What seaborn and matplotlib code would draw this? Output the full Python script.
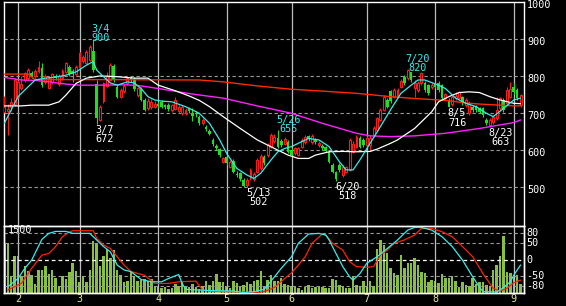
import numpy as np
import pandas as pd
import matplotlib
matplotlib.use("Agg")
import matplotlib.pyplot as plt
import seaborn as sns
from matplotlib.transforms import blended_transform_factory, offset_copy

sns.set_style("dark", {"axes.facecolor": "black", "figure.facecolor": "black"})
plt.rcParams["font.family"] = ["DejaVu Sans Mono", "DejaVu Sans"]

# ---------------- data (daily, trading-day index 0..151) ----------------
opens = [704, 705, 718, 725, 745, 768, 790, 795, 810, 800, 813, 822, 785, 768, 785, 800, 780, 795, 812, 825,
         815, 805, 826, 840, 835, 845, 868, 780, 682, 732, 775, 790, 828, 772, 745, 760, 781, 795, 792, 750,
         765, 736, 714, 716, 718, 726, 730, 722, 723, 708, 712, 705, 700, 700, 714, 702, 700, 689, 673, 664,
         653, 628, 612, 603, 569, 581, 556, 572, 535, 538, 520, 505, 524, 522, 542, 552, 582, 587, 610, 624,
         633, 624, 618, 623, 601, 592, 588, 610, 623, 638, 623, 627, 614, 612, 609, 596, 560, 540, 560, 533,
         542, 547, 596, 610, 633, 628, 615, 615, 640, 655, 682, 709, 736, 759, 745, 745, 772, 799, 795, 812,
         768, 763, 781, 781, 776, 770, 781, 781, 776, 740, 736, 725, 740, 740, 743, 722, 700, 718, 718, 713,
         713, 682, 668, 677, 686, 713, 736, 727, 745, 772, 763, 722]
closes = [716, 712, 730, 790, 785, 780, 808, 818, 800, 815, 826, 777, 800, 795, 805, 795, 800, 815, 835, 805,
          805, 825, 862, 852, 865, 878, 817, 687, 718, 781, 800, 831, 790, 745, 763, 775, 795, 790, 765, 768,
          736, 709, 732, 730, 726, 720, 718, 718, 711, 722, 735, 716, 718, 710, 705, 693, 698, 673, 682, 657,
          644, 617, 605, 587, 578, 565, 569, 542, 532, 522, 504, 520, 547, 536, 574, 585, 565, 614, 641, 637,
          610, 615, 630, 596, 587, 605, 605, 628, 637, 630, 639, 623, 619, 607, 599, 569, 542, 522, 547, 556,
          554, 628, 618, 637, 610, 615, 633, 633, 660, 687, 709, 745, 718, 732, 763, 763, 786, 781, 817, 790,
          782, 781, 808, 763, 754, 776, 772, 763, 740, 751, 718, 745, 748, 758, 727, 736, 727, 709, 709, 704,
          695, 673, 682, 691, 709, 740, 709, 763, 767, 758, 740, 749]
highs = [747, 725, 740, 795, 790, 800, 812, 822, 815, 820, 840, 835, 805, 800, 808, 805, 805, 820, 838, 830,
         820, 830, 865, 858, 872, 885, 900, 790, 722, 785, 812, 836, 832, 778, 768, 780, 800, 802, 798, 772,
         770, 740, 740, 738, 732, 730, 735, 726, 728, 726, 745, 722, 722, 715, 716, 714, 705, 695, 688, 668,
         658, 632, 616, 606, 582, 585, 574, 576, 545, 542, 525, 524, 552, 540, 578, 590, 588, 620, 646, 645,
         655, 630, 636, 628, 605, 610, 610, 634, 642, 642, 645, 632, 625, 616, 612, 600, 565, 545, 565, 560,
         558, 632, 625, 642, 638, 632, 638, 640, 665, 690, 714, 750, 742, 764, 768, 768, 792, 803, 820, 812,
         790, 786, 812, 786, 780, 784, 784, 786, 780, 756, 742, 750, 758, 761, 748, 740, 732, 722, 722, 718,
         718, 686, 686, 696, 745, 745, 742, 772, 785, 782, 768, 752]
lows = [700, 642, 705, 720, 740, 762, 785, 790, 795, 795, 808, 770, 780, 765, 780, 790, 775, 790, 808, 800,
        785, 800, 822, 835, 833, 840, 812, 672, 678, 728, 770, 786, 785, 740, 740, 755, 776, 785, 760, 745,
        732, 705, 710, 712, 714, 715, 714, 712, 706, 704, 708, 700, 695, 696, 700, 678, 690, 668, 668, 652,
        640, 612, 600, 582, 565, 560, 552, 538, 528, 518, 502, 502, 520, 518, 538, 548, 560, 583, 605, 620,
        606, 610, 614, 592, 583, 588, 584, 606, 618, 626, 618, 618, 610, 602, 595, 565, 538, 518, 540, 528,
        538, 543, 592, 605, 605, 610, 610, 602, 635, 650, 678, 705, 714, 728, 740, 740, 768, 776, 790, 785,
        745, 758, 776, 758, 750, 765, 768, 758, 736, 735, 716, 720, 735, 735, 722, 718, 696, 704, 704, 700,
        690, 668, 663, 672, 682, 708, 704, 722, 740, 752, 735, 718]
volume = [1119, 1119, 388, 836, 821, 373, 597, 485, 410, 209, 507, 522, 612, 433, 522, 336, 164, 373, 313, 477,
          686, 485, 239, 373, 239, 522, 1179, 1119, 597, 821, 985, 783, 970, 522, 410, 239, 261, 477, 373, 261,
          283, 313, 261, 313, 164, 134, 112, 134, 90, 112, 209, 149, 261, 164, 134, 209, 134, 90, 164, 261,
          187, 261, 433, 239, 239, 149, 112, 261, 224, 134, 187, 239, 209, 276, 283, 485, 164, 283, 410, 261,
          261, 336, 209, 187, 149, 164, 112, 75, 134, 179, 119, 134, 164, 134, 119, 112, 313, 283, 187, 149,
          119, 104, 388, 179, 164, 261, 149, 269, 149, 985, 1194, 1082, 910, 560, 448, 395, 858, 552, 686, 686,
          783, 634, 463, 448, 239, 298, 269, 224, 433, 336, 336, 373, 261, 134, 239, 187, 164, 336, 209, 239,
          239, 187, 164, 507, 634, 821, 1291, 463, 448, 358, 410, 209]

# moving averages (read at sparse days)
ma_short_day = [0, 2, 4, 7, 9, 12, 15, 18, 21, 24, 26, 27, 29, 31, 33, 36, 38, 40, 42, 44, 46, 49, 53, 57, 60, 63,
                65, 68, 71, 73, 75, 78, 80, 82, 84, 86, 89, 92, 95, 98, 100, 102, 104, 107, 110, 113, 116, 119,
                121, 123, 125, 127, 129, 132, 135, 138, 141, 143, 146, 149, 151]
ma_short_val = [673, 709, 745, 772, 790, 795, 798, 803, 812, 830, 840, 817, 799, 782, 776, 785, 782, 767, 745, 736,
                733, 731, 718, 700, 673, 628, 592, 551, 533, 524, 538, 574, 596, 605, 610, 619, 632, 628, 610, 569,
                547, 547, 574, 619, 664, 710, 754, 776, 790, 790, 783, 776, 767, 741, 727, 718, 700, 691, 713, 736,
                741]
ma_mid_day = [0, 5, 8, 13, 16, 18, 21, 24, 28, 33, 38, 42, 45, 50, 54, 57, 60, 64, 69, 74, 79, 83, 86, 89, 91, 95,
              99, 103, 107, 109, 113, 115, 120, 125, 127, 130, 133, 136, 139, 142, 145, 149, 151]
ma_mid_val = [720, 720, 722, 722, 731, 749, 781, 795, 801, 799, 795, 795, 776, 761, 747, 735, 718, 691, 659, 628,
              605, 587, 578, 578, 587, 596, 597, 596, 597, 603, 619, 628, 659, 704, 731, 745, 756, 758, 756, 745,
              736, 727, 726]
ma_long_day = [0, 5, 9, 13, 18, 22, 28, 36, 40, 45, 51, 55, 64, 74, 84, 93, 103, 107, 113, 120, 129, 139, 149, 151]
ma_long_val = [797, 790, 789, 785, 779, 776, 776, 777, 774, 767, 758, 752, 741, 720, 700, 673, 646, 639, 637, 639,
               646, 659, 675, 682]
ma_200_day = [0, 7, 9, 30, 57, 64, 74, 84, 93, 103, 113, 120, 129, 135, 139, 149, 151]
ma_200_val = [806, 806, 791, 791, 790, 785, 774, 765, 760, 754, 745, 740, 735, 728, 725, 720, 720]

# oscillator (two lines, -100..100)
osc_fast_day = [1, 4, 6, 8, 11, 13, 15, 18, 20, 25, 27, 29, 31, 33, 35, 37, 40, 43, 46, 48, 51, 52, 53, 57, 61,
                67, 70, 73, 76, 79, 81, 84, 86, 89, 92, 94, 95, 97, 99, 101, 102, 104, 106, 109, 112, 115, 118,
                120, 122, 125, 128, 131, 134, 137, 139, 140, 144, 145, 148, 149, 151]
osc_fast_val = [-82, -57, -26, -1, 62, 80, 86, 86, 80, 80, 60, 40, 24, -16, -31, -36, -60, -67, -67, -57, -45, -72,
                -90, -92, -94, -95, -100, -97, -90, -52, -26, 9, 50, 78, 80, 75, 60, 19, -21, -52, -62, -42, -11,
                9, 34, 60, 90, 98, 98, 90, 70, 40, -1, -52, -84, -97, -98, -92, -67, -47, -16]
osc_slow_day = [1, 5, 8, 11, 13, 15, 17, 19, 20, 26, 27, 29, 31, 33, 35, 37, 41, 44, 48, 51, 56, 58, 61, 67, 73,
                76, 79, 82, 84, 86, 88, 90, 93, 94, 96, 99, 101, 103, 106, 108, 110, 112, 114, 117, 120, 122, 125,
                128, 131, 134, 137, 140, 143, 145, 147, 149, 151]
osc_slow_val = [-92, -72, -26, 14, 19, 40, 70, 84, 88, 88, 65, 45, 34, 9, -16, -36, -47, -72, -72, -67, -65, -92,
                -96, -97, -100, -97, -84, -57, -40, -16, 9, 50, 78, 75, 50, 29, -6, -21, -23, -21, 14, 29, 50, 60,
                75, 95, 95, 85, 70, 40, 9, -42, -87, -95, -87, -70, -62]

month_labels = ["2", "3", "4", "5", "6", "7", "8", "9"]
month_pos = [4, 22.1, 45, 65, 84, 106, 126, 149]
price_ticks = [1000, 900, 800, 700, 600, 500]
osc_ticks = [80, 50, 0, -50, -80]
osc_tick_text = ["80", "50", "0", "-50", "-80"]

# annotations: (day, kind, date text)
peak_notes = [(26, "high", "3/4"), (27, "low", "3/7"), (71, "low", "5/13"), (80, "high", "5/26"),
              (97, "low", "6/20"), (118, "high", "7/20"), (130, "low", "8/5"), (142, "low", "8/23")]

# ---------------- style ----------------
RED = "#ff1a1a"
GREEN = "#22dd22"
CYAN = "#33eeee"
MAG = "#ff22ff"
MA200 = "#ff2a00"
VOLC = "#88c040"
GRIDV = "#bdbdbd"
GRIDH = "#9a9a9a"
MONTHC = "#e8e890"

W, H = 566, 306
fig = plt.figure(figsize=(W / 100, H / 100), dpi=100, facecolor="black")
ax1 = fig.add_axes([4 / W, (H - 226) / H, 520 / W, 224 / H])
ax2 = fig.add_axes([4 / W, (H - 293) / H, 520 / W, 67 / H])
ax3 = ax2.twinx()

for ax in (ax1, ax2, ax3):
    ax.set_facecolor("black")
    ax.grid(False)
    ax.tick_params(left=False, right=False, bottom=False, top=False,
                   labelleft=False, labelright=False, labelbottom=False, labeltop=False)
    for s in ax.spines.values():
        s.set_color("white")
        s.set_linewidth(1.0)
ax3.patch.set_visible(False)
ax1.spines["bottom"].set_visible(False)

XL = (-0.1, 152.0)
ax1.set_xlim(*XL)
ax2.set_xlim(*XL)
ax1.set_ylim(395.4, 1000.8)
ax2.set_ylim(0, 1507)
ax3.set_ylim(-101, 102.4)

# grid lines
for p in month_pos:
    ax1.axvline(p, color=GRIDV, lw=0.9, zorder=1)
    ax3.axvline(p, color=GRIDV, lw=0.9, zorder=1)
for t in price_ticks[1:]:
    ax1.axhline(t, color=GRIDH, lw=0.8, ls=(0, (3, 2.4)), zorder=1)
for t in osc_ticks:
    c = "white" if t == 0 else GRIDH
    ax3.axhline(t, color=c, lw=0.9 if t == 0 else 0.8, ls=(0, (3, 2.4)), zorder=1)

# candles
o = np.array(opens, float); c = np.array(closes, float)
h = np.array(highs, float); l = np.array(lows, float)
idx = np.arange(len(o))
up = c >= o
ax1.vlines(idx[up], l[up], h[up], color=RED, lw=0.8, zorder=3)
ax1.vlines(idx[~up], l[~up], h[~up], color=GREEN, lw=0.8, zorder=3)
ax1.bar(idx[up], np.maximum(c[up] - o[up], 1.5), bottom=o[up], width=0.55, facecolor="black",
        edgecolor=RED, linewidth=0.8, zorder=4)
ax1.bar(idx[~up], np.maximum(o[~up] - c[~up], 1.5), bottom=c[~up], width=0.75, color=GREEN,
        linewidth=0, zorder=4)

# moving averages
for xs, ys, col, lw in [(ma_200_day, ma_200_val, MA200, 1.0), (ma_long_day, ma_long_val, MAG, 1.0),
                        (ma_mid_day, ma_mid_val, "white", 0.9), (ma_short_day, ma_short_val, CYAN, 0.9)]:
    sns.lineplot(x=xs, y=ys, ax=ax1, color=col, linewidth=lw, estimator=None, sort=False,
                 legend=False, zorder=5)

# volume
ax2.bar(idx, volume, width=0.72, color=VOLC, linewidth=0, zorder=2)

# oscillator
sns.lineplot(x=osc_slow_day, y=osc_slow_val, ax=ax3, color="#ff2200", linewidth=0.9,
             estimator=None, sort=False, legend=False, zorder=5)
sns.lineplot(x=osc_fast_day, y=osc_fast_val, ax=ax3, color=CYAN, linewidth=0.9,
             estimator=None, sort=False, legend=False, zorder=6)
ax1.set_xlabel(""); ax1.set_ylabel("")
ax3.set_xlabel(""); ax3.set_ylabel(""); ax2.set_ylabel("")

FS = 7.3
# right axis labels
tr1 = offset_copy(blended_transform_factory(ax1.transAxes, ax1.transData), fig=fig, x=3, y=-2.5, units="dots")
for t in price_ticks:
    ax1.text(1.0, t, str(t), transform=tr1, color="white", fontsize=FS, ha="left", va="center", clip_on=False)
tr3 = offset_copy(blended_transform_factory(ax3.transAxes, ax3.transData), fig=fig, x=2, y=0, units="dots")
for t, s in zip(osc_ticks, osc_tick_text):
    ax3.text(1.0, t, s, transform=tr3, color="white", fontsize=FS, ha="left", va="center", clip_on=False)
ax2.text(4 / 520 + 0.0, 1500, "1500", transform=offset_copy(blended_transform_factory(ax2.transAxes, ax2.transData),
         fig=fig, x=0, y=-4, units="dots"), color="white", fontsize=FS, ha="left", va="center", zorder=7)

# month labels
trm = offset_copy(blended_transform_factory(ax2.transData, ax2.transAxes), fig=fig, x=0, y=-6, units="dots")
for p, s in zip(month_pos, month_labels):
    ax2.text(p, 0, s, transform=trm, color=MONTHC, fontsize=FS, ha="center", va="center", clip_on=False)

# peak / trough annotations
for d, kind, date in peak_notes:
    if kind == "high":
        ax1.annotate(f"{date}\n{int(h[d])}", xy=(d, h[d]), xytext=(-2, -4), textcoords="offset pixels",
                     ha="left", va="bottom", multialignment="center", color=CYAN, fontsize=FS,
                     linespacing=0.92, zorder=8)
    else:
        ax1.annotate(f"{date}\n{int(l[d])}", xy=(d, l[d]), xytext=(-1, -1), textcoords="offset pixels",
                     ha="left", va="top", multialignment="center", color="white", fontsize=FS,
                     linespacing=0.92, zorder=8)

fig.savefig("out.png", dpi=100, facecolor="black")
